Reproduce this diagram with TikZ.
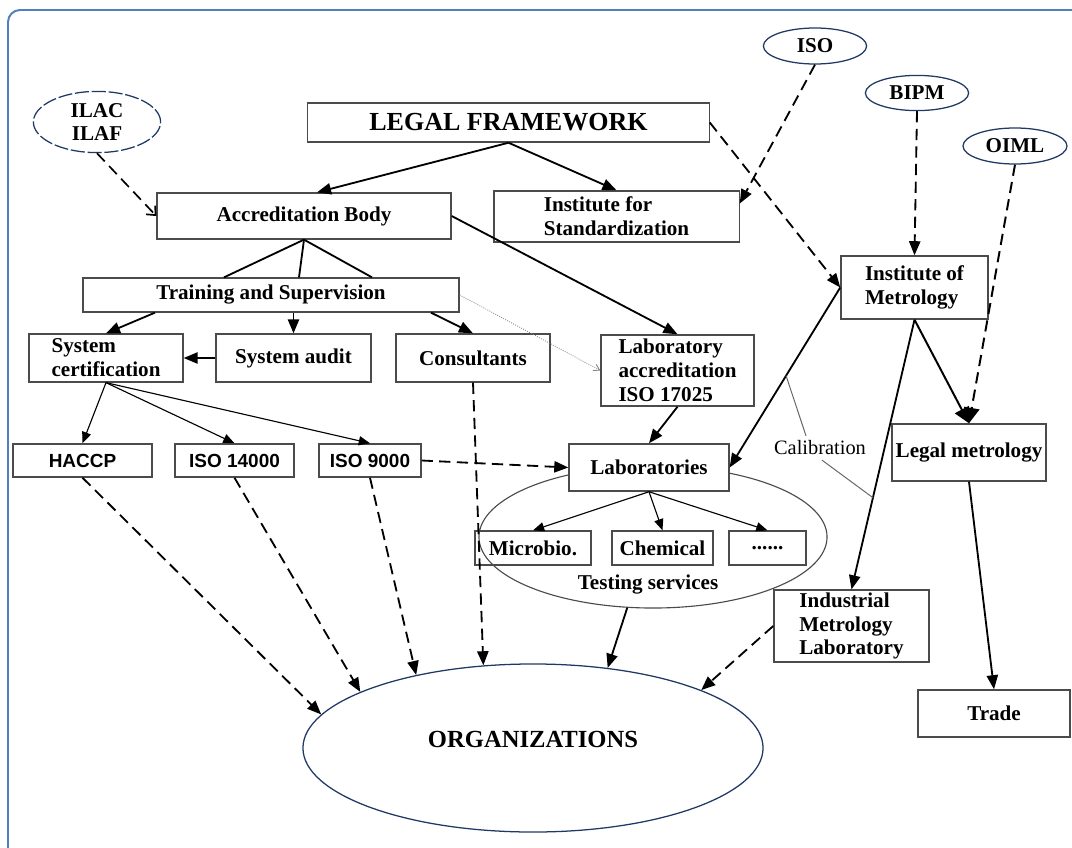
\documentclass[tikz,border=0pt]{standalone}
\usepackage{fontspec}
\setmainfont{Liberation Serif}
\newfontfamily\arialfont{Liberation Sans}
\usetikzlibrary{arrows.meta,calc,shapes.geometric,positioning}

\definecolor{frameBlue}{RGB}{79,129,189}
\definecolor{ovalNavy}{RGB}{31,56,100}
\definecolor{boxGray}{RGB}{75,75,75}

\begin{document}
\begin{tikzpicture}[x=0.025cm, y=-0.025cm]

% --- Stijldefinities ---
\tikzset{
    box/.style={
        rectangle,
        draw=boxGray,
        line width=0.9pt,
        inner xsep=1pt,
        inner ysep=1pt,
        align=center,
        font=\bfseries\fontsize{15}{17}\selectfont
    },
    leftBox/.style={
        box,
        align=left
    },
    sansBox/.style={
        box,
        font=\arialfont\bfseries\fontsize{13.5}{15}\selectfont
    },
    oval/.style={
        ellipse,
        draw=ovalNavy,
        line width=0.9pt,
        inner sep=0pt,
        align=center,
        font=\bfseries\fontsize{15}{17}\selectfont
    },
    plainLine/.style={
        line width=1.3pt
    },
    arrowLine/.style={
        line width=1.3pt,
        -{Triangle[length=10pt,width=8pt]}
    },
    bigArrow/.style={
        line width=1.4pt,
        -{Triangle[length=11pt,width=11pt]}
    },
    thinArrow/.style={
        line width=0.8pt,
        -{Triangle[length=8pt,width=6.5pt]}
    },
    dashArrow/.style={
        arrowLine,
        dash pattern=on 8pt off 4.5pt
    },
    openDash/.style={
        line width=1.2pt,
        dash pattern=on 8pt off 4.5pt,
        -{Straight Barb[length=5pt,width=9pt]}
    },
    dotArrow/.style={
        draw=gray,
        line width=0.6pt,
        densely dotted,
        -{Straight Barb[length=4pt,width=5pt]}
    },
    calLine/.style={
        draw=gray!80!black,
        line width=0.7pt
    }
}

\useasboundingbox (0,0) rectangle (1072,848);
\clip (0,0) rectangle (1072,848);

% Kader
\draw[frameBlue, line width=1.4pt, rounded corners=0.3cm] (8,10) rectangle (1090,862);

% =========================================================
% Bovenste laag: kader en internationale organisaties
% =========================================================

\node[box, minimum width=10.03cm, minimum height=0.98cm,
      font=\bfseries\fontsize{18.5}{20}\selectfont] (legal) at (508.5,122.5) {LEGAL FRAMEWORK};

\node[oval, minimum width=3.18cm, minimum height=1.53cm,
      dash pattern=on 10pt off 2pt] (ilac) at (97,122) {ILAC\\ILAF};
\node[oval, minimum width=2.58cm, minimum height=0.9cm] (iso) at (815,46) {ISO};
\node[oval, minimum width=2.58cm, minimum height=0.88cm] (bipm) at (917,93) {BIPM};
\node[oval, minimum width=2.6cm, minimum height=0.9cm] (oiml) at (1015,146) {OIML};

\node[box, minimum width=7.35cm, minimum height=1.15cm] (accr) at (304,216) {Accreditation Body};
\node[leftBox, minimum width=6.13cm, minimum height=1.28cm] (stand) at (616.5,216.5) {Institute for\\Standardization};
\node[leftBox, minimum width=3.68cm, minimum height=1.58cm] (metro) at (914.5,287.5) {Institute of\\Metrology};

% =========================================================
% Middelste laag: accreditatie en certificatie
% =========================================================

\node[box, minimum width=9.4cm, minimum height=0.85cm] (train) at (271,295) {Training and Supervision};
\node[leftBox, minimum width=3.85cm, minimum height=1.2cm] (syscert) at (106,358) {System\\certification};
\node[box, minimum width=3.88cm, minimum height=1.2cm] (audit) at (293.5,358) {System audit};
\node[box, minimum width=3.85cm, minimum height=1.2cm] (consult) at (473,358) {Consultants};
\node[leftBox, minimum width=3.83cm, minimum height=1.78cm] (labaccr) at (677.5,370.5) {Laboratory\\accreditation\\ISO 17025};

\node[sansBox, minimum width=3.48cm, minimum height=0.83cm] (haccp) at (82.5,460.5) {HACCP};
\node[sansBox, minimum width=2.98cm, minimum height=0.83cm] (iso14) at (234.5,460.5) {ISO 14000};
\node[sansBox, minimum width=2.55cm, minimum height=0.83cm] (iso9) at (370,460.5) {ISO 9000};

% Testdiensten
\node[ellipse, draw=boxGray, line width=0.8pt, minimum width=8.7cm, minimum height=3.55cm] (testing) at (653,537) {};
\node[box, fill=white, minimum width=4cm, minimum height=1.18cm] (labs) at (649,467.5) {Laboratories};
\node[box, minimum width=2.9cm, minimum height=0.85cm] (micro) at (533,548) {Microbio.};
\node[box, minimum width=2.53cm, minimum height=0.85cm] (chem) at (662.5,548) {Chemical};
\node[box, minimum width=1.93cm, minimum height=0.85cm] (more) at (767.5,548) {......};
\node[font=\bfseries\fontsize{15}{17}\selectfont] (testlabel) at (648,585) {Testing services};

% Metrologie
\node[box, minimum width=3.85cm, minimum height=1.43cm] (legalmet) at (969,452.5) {Legal metrology};
\node[font=\fontsize{14.5}{17}\selectfont] (calib) at (820,448) {Calibration};
\node[leftBox, minimum width=3.88cm, minimum height=1.8cm] (indmet) at (851.5,626) {Industrial\\Metrology\\Laboratory};
\node[box, minimum width=3.8cm, minimum height=1.18cm] (trade) at (994,713.5) {Trade};

% =========================================================
% Onderste laag: organisaties
% =========================================================

\node[ellipse, draw=ovalNavy, line width=0.9pt, minimum width=11.5cm, minimum height=4.2cm,
      text depth=12pt, font=\bfseries\fontsize{17.5}{20}\selectfont] (org) at (533,748) {ORGANIZATIONS};

% =========================================================
% Verbindingen
% =========================================================

% Externe invloeden (gestreept)
\draw[openDash] (ilac.south) -- (accr.west);
\draw[dashArrow] (legal.east) -- (metro.west);
\draw[dashArrow] (iso.south) -- ($(stand.east)+(0,-13)$);
\draw[dashArrow] (bipm.south) -- (metro.north);
\draw[bigArrow, dash pattern=on 8pt off 4.5pt] (oiml.south) -- (legalmet.north);

% Wettelijk kader
\draw[arrowLine] (legal.south) -- ($(accr.north)+(13,0)$);
\draw[arrowLine] (legal.south) -- (stand.north);
\draw[arrowLine] (accr.east) -- (labaccr.north);
\foreach \dx in {-47,28,101}
    \draw[plainLine] (accr.south) -- ($(train.north)+(\dx,0)$);

% Opleiding en toezicht
\draw[arrowLine] ($(train.south)+(-116,0)$) -- (syscert.north);
\draw[arrowLine] (audit.north |- train.south) -- (audit.north);
\draw[arrowLine] ($(train.south)+(160,0)$) -- (consult.north);
\draw[dotArrow] (train.east) -- (labaccr.west);
\draw[arrowLine] (audit.west) -- (syscert.east);
\foreach \std in {haccp,iso14,iso9}
    \draw[thinArrow] (syscert.south) -- (\std.north);

% Laboratoria
\draw[dashArrow] (iso9.east) -- (labs.west);
\draw[arrowLine] (labaccr.south) -- (labs.north);
\foreach \test in {micro,chem,more}
    \draw[thinArrow] (labs.south) -- (\test.north);

% Metrologie
\draw[arrowLine] (metro.west) -- (labs.east);
\draw[arrowLine] (metro.south) -- (indmet.north);
\draw[bigArrow] (metro.south) -- (legalmet.north);
\draw[arrowLine] (legalmet.south) -- (trade.north);
\draw[calLine] ($(metro.west)!0.49!(labs.east)$) -- ($(calib.north)+(-14,0)$);
\draw[calLine] ($(calib.south)+(2,0)$) -- ($(metro.south)!0.66!(indmet.north)$);

% Naar de organisaties
\draw[dashArrow] (haccp.south) -- (org.171);
\draw[dashArrow] (iso14.south) -- (org.162);
\draw[dashArrow] (iso9.south) -- (org.148);
\draw[dashArrow] (consult.south) -- (org.121);
\draw[arrowLine] (testing.250) -- (org.47);
\draw[dashArrow] (indmet.west) -- (org.19);

\end{tikzpicture}
\end{document}
